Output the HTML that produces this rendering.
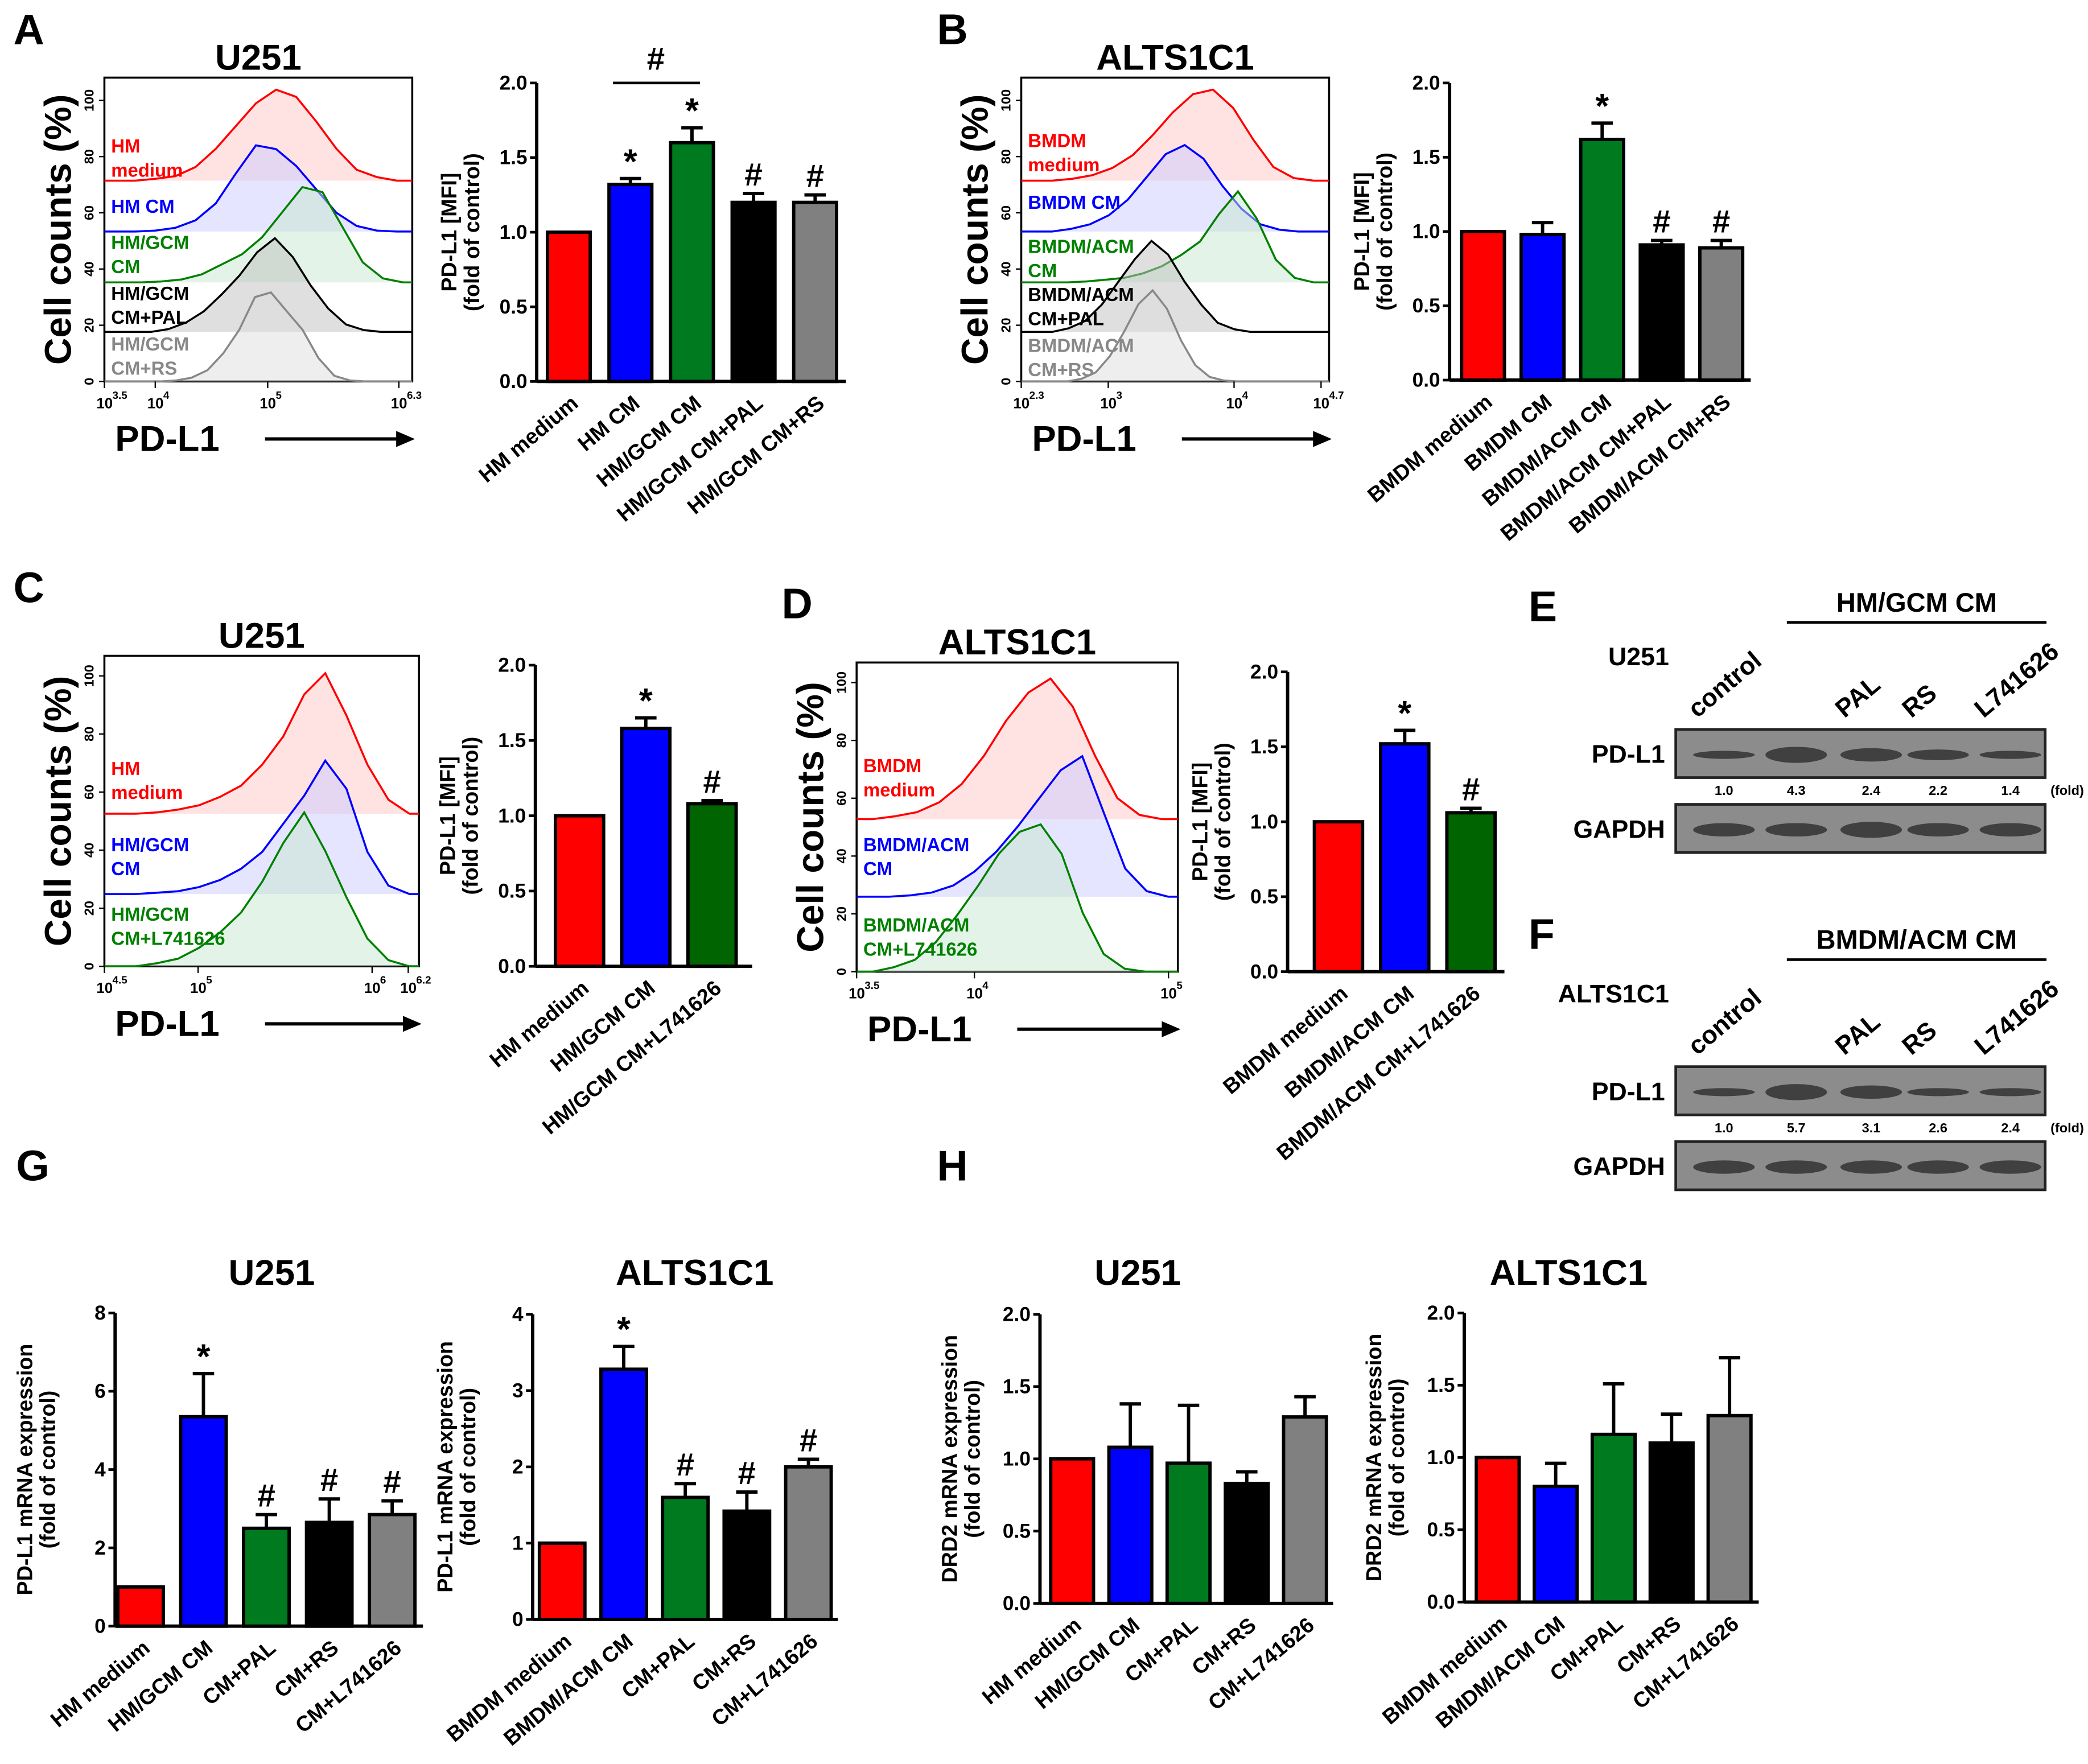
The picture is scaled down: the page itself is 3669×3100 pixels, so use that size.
<!DOCTYPE html>
<html><head><meta charset="utf-8"><style>
html,body{margin:0;padding:0;background:#fff}
svg{display:block}
text{font-family:"Liberation Sans",Arial,sans-serif;font-weight:bold}
</style></head><body>
<svg id="fig" width="3669" height="3100" viewBox="0 0 1560 1318" preserveAspectRatio="none" xmlns="http://www.w3.org/2000/svg">
</svg>
<script>
// ---- Data arrays ----
const catsA=["HM medium","HM CM","HM/GCM CM","HM/GCM CM+PAL","HM/GCM CM+RS"];
const valsA=[1.0,1.32,1.6,1.2,1.2];
const errsA=[0,0.04,0.1,0.06,0.05];
const marksA=["","*","*","#","#"];
const catsB=["BMDM medium","BMDM CM","BMDM/ACM CM","BMDM/ACM CM+PAL","BMDM/ACM CM+RS"];
const valsB=[1.0,0.98,1.62,0.91,0.89];
const errsB=[0,0.08,0.11,0.03,0.05];
const marksB=["","","*","#","#"];
const catsC=["HM medium","HM/GCM CM","HM/GCM CM+L741626"];
const valsC=[1.0,1.58,1.08];
const errsC=[0,0.07,0.02];
const marksC=["","*","#"];
const catsD=["BMDM medium","BMDM/ACM CM","BMDM/ACM CM+L741626"];
const valsD=[1.0,1.52,1.06];
const errsD=[0,0.09,0.03];
const marksD=["","*","#"];
const catsG1=["HM medium","HM/GCM CM","CM+PAL","CM+RS","CM+L741626"];
const valsG1=[1.0,5.35,2.5,2.65,2.85];
const errsG1=[0,1.1,0.35,0.6,0.35];
const marksG1=["","*","#","#","#"];
const catsG2=["BMDM medium","BMDM/ACM CM","CM+PAL","CM+RS","CM+L741626"];
const valsG2=[1.0,3.28,1.6,1.42,2.0];
const errsG2=[0,0.3,0.18,0.25,0.1];
const marksG2=["","*","#","#","#"];
const catsH1=["HM medium","HM/GCM CM","CM+PAL","CM+RS","CM+L741626"];
const valsH1=[1.0,1.08,0.97,0.83,1.29];
const errsH1=[0,0.3,0.4,0.08,0.14];
const catsH2=["BMDM medium","BMDM/ACM CM","CM+PAL","CM+RS","CM+L741626"];
const valsH2=[1.0,0.8,1.16,1.1,1.29];
const errsH2=[0,0.16,0.35,0.2,0.4];
const ticks2=["0.0","0.5","1.0","1.5","2.0"];
const ticksG1=["0","2","4","6","8"];
const ticksG2=["0","1","2","3","4"];
const foldE=["1.0","4.3","2.4","2.2","1.4"];
const foldF=["1.0","5.7","3.1","2.6","2.4"];
// histogram shapes (0-100 heights at evenly spaced points)
const hA_red=[0,2,5,15,35,60,85,100,92,65,35,12,4,0];
const hA_blue=[0,1,4,12,30,62,92,88,70,45,20,6,1,0];
const hA_green=[0,1,3,8,18,28,45,70,95,90,55,20,4,0];
const hA_black=[0,3,10,22,40,60,85,100,80,50,25,8,2,0];
const hA_gray=[0,1,4,12,30,55,90,95,75,55,25,6,1,0];
const hB_red=[0,2,6,14,28,50,75,95,100,80,45,15,3,0];
const hB_blue=[0,3,8,18,35,60,85,95,80,50,25,8,2,0];
const hB_green=[0,1,3,5,10,18,30,45,75,100,70,25,5,0];
const hB_black=[0,4,12,30,55,80,100,85,55,30,10,3,0,0];
const hB_gray=[0,3,10,28,55,85,100,80,45,18,5,1,0,0];
const hC_red=[0,1,3,6,12,20,35,55,85,100,70,35,10,0];
const hC_blue=[0,1,2,5,10,18,30,50,70,95,75,30,6,0];
const hC_green=[0,2,5,12,22,35,55,80,100,75,45,18,4,0];
const hD_red=[0,2,5,12,25,45,70,90,100,80,45,15,3,0];
const hD_blue=[0,1,3,8,18,32,50,70,90,100,60,20,4,0];
const hD_green=[0,3,8,20,38,58,80,95,100,80,40,12,2,0];

const NS="http://www.w3.org/2000/svg";
const svg=document.getElementById('fig');
function el(tag,attrs,parent){const e=document.createElementNS(NS,tag);for(const k in attrs)e.setAttribute(k,attrs[k]);(parent||svg).appendChild(e);return e;}
function txt(x,y,s,size,opts){opts=opts||{};const t=el('text',{x:x,y:y,'font-size':size,fill:opts.fill||'#000','text-anchor':opts.anchor||'start'},opts.parent);if(opts.rot!==undefined)t.setAttribute('transform','rotate('+opts.rot+' '+x+' '+y+')');if(opts.normal)t.setAttribute('font-weight','normal');t.textContent=s;return t;}

function letter(x,y,s){const t=txt(x,y,s,32);}

function barChart(o){
  const g=el('g',{});
  
  
  const ys=v=>o.y0-(v/o.ymax)*(o.y0-o.ytop);
  el('line',{x1:o.ax,y1:o.ytop,x2:o.ax,y2:o.y0,stroke:'#000','stroke-width':2.5},g);
  el('line',{x1:o.ax,y1:o.y0,x2:o.xend,y2:o.y0,stroke:'#000','stroke-width':2.5},g);
  o.ticks.forEach((t,i)=>{const v=o.ymax*i/(o.ticks.length-1);const y=ys(v);
    el('line',{x1:o.ax-5,y1:y,x2:o.ax,y2:y,stroke:'#000','stroke-width':2},g);
    const tl=txt(o.ax-7,y+5,t,15,{anchor:'end',parent:g});
    
    });
  const cols=o.colors;
  o.vals.forEach((v,i)=>{const cx=o.c0+i*o.step;const y=ys(v);
    if(o.errs[i]>0){const ye=ys(v+o.errs[i]);
      el('line',{x1:cx,y1:y,x2:cx,y2:ye,stroke:'#000','stroke-width':2.5},g);
      el('line',{x1:cx-8,y1:ye,x2:cx+8,y2:ye,stroke:'#000','stroke-width':2.5},g);}
    const r=el('rect',{x:cx-o.w/2,y:y,width:o.w,height:o.y0-y,fill:cols[i],stroke:'#000','stroke-width':2.5},g);
    
    
    if(o.marks&&o.marks[i]){const ye=ys(v+o.errs[i]);txt(cx,ye-(o.marks[i]=='*'?4:6),o.marks[i],o.marks[i]=='*'?26:24,{anchor:'middle',parent:g});}
    const lab=txt(cx+8,o.y0+18,o.cats[i],16,{anchor:'end',rot:-40,parent:g});
    
    
  });
  const midY=(o.ytop+o.y0)/2;
  txt(o.ax-o.tOff,midY,o.t1,16,{anchor:'middle',rot:-90,parent:g});
  txt(o.ax-o.tOff+17,midY,o.t2,16,{anchor:'middle',rot:-90,parent:g});
}
const C5=['#ff0000','#0000ff','#007a1f','#000000','#808080'];
const C3=['#ff0000','#0000ff','#006400'];

function hist(o){
  const g=el('g',{});
  
  
  el('rect',{x:o.x0,y:o.y0,width:o.x1-o.x0,height:o.y1-o.y0,fill:'#fff',stroke:'#000','stroke-width':1.5},g);
  o.curves.forEach((c,ci)=>{
    const n=c.h.length;const pts=[];
    const xa=o.x0+(o.x1-o.x0)*c.from, xb=o.x0+(o.x1-o.x0)*c.to;
    for(let i=0;i<n;i++){const x=xa+(xb-xa)*i/(n-1);pts.push([x,c.base-c.h[i]/100*c.amp]);}
    let d='M'+o.x0+','+c.base+' L'+pts.map(p=>p[0].toFixed(1)+','+p[1].toFixed(1)).join(' L')+' L'+o.x1+','+c.base;
    el('path',{d:d+' Z',fill:c.fill,opacity:0.5,stroke:'none'},g);
    const p=el('path',{d:d,fill:'none',stroke:c.col,'stroke-width':1.5},g);
    
    
    c.lab.forEach((l,li)=>{txt(o.x0+5,c.lab0+li*18,l,14,{fill:c.col,parent:g});});
  });
  for(let i=0;i<=5;i++){const y=o.y1-(o.y1-o.ytop100)*i/5;
    el('line',{x1:o.x0-4,y1:y,x2:o.x0,y2:y,stroke:'#000','stroke-width':1},g);
    txt(o.x0-8,y,String(i*20),10,{anchor:'middle',rot:-90,normal:true,parent:g});}
  txt(o.x0-25,(o.y0+o.y1)/2,'Cell counts (%)',28,{anchor:'middle',rot:-90,parent:g});
  o.xt.forEach(t=>{el('line',{x1:t[0],y1:o.y1,x2:t[0],y2:o.y1+5,stroke:'#000','stroke-width':1},g);
    txt(t[0]-6,o.y1+20,'10',11,{normal:true,parent:g});
    txt(t[0]+6,o.y1+13,t[1],8,{normal:true,parent:g});});
  txt((o.x0+o.x1)/2,o.y0-6,o.title,27,{anchor:'middle',parent:g});
  txt(o.x0+8,o.y1+52,'PD-L1',27,{parent:g});
  el('line',{x1:o.x0+120,y1:o.y1+43,x2:o.x1-10,y2:o.y1+43,stroke:'#000','stroke-width':2.5},g);
  el('path',{d:'M'+(o.x1-12)+','+(o.y1+37)+' L'+(o.x1+2)+','+(o.y1+43)+' L'+(o.x1-12)+','+(o.y1+49)+' Z',fill:'#000'},g);
}

function blot(o){
  const g=el('g',{});
  
  
  txt(o.x0-5,o.y0-48,o.cell,19,{anchor:'end',parent:g});
  txt(o.x0+180,o.y0-88,o.group,20,{anchor:'middle',parent:g});
  el('line',{x1:o.x0+83,y1:o.y0-80,x2:o.x0+277,y2:o.y0-80,stroke:'#000','stroke-width':2},g);
  const lanes=['control','','PAL','RS','L741626'];
  const lx=[o.x0+36,o.x0+90,o.x0+146,o.x0+196,o.x0+250];
  lanes.forEach((l,i)=>{if(l)txt(lx[i]-20,o.y0-8,l,19,{rot:-40,parent:g});});
  [[o.y0,'PD-L1',o.p],[o.y0+56,'GAPDH',o.gp]].forEach((r,ri)=>{
    const b=el('rect',{x:o.x0,y:r[0],width:276,height:36,fill:'#8c8c8c',stroke:'#222','stroke-width':2},g);
    
    
    txt(o.x0-8,r[0]+25,r[1],19,{anchor:'end',parent:g});
    lx.forEach((x,i)=>{el('ellipse',{cx:x,cy:r[0]+19,rx:23,ry:r[2][i],fill:'#333',opacity:0.85},g);});
  });
  o.fold.forEach((f,i)=>txt(lx[i],o.y0+49,f,10,{anchor:'middle',normal:true,parent:g}));
  txt(o.x0+280,o.y0+49,'(fold)',10,{normal:true,parent:g});
}

letter(10,33,'A');letter(700,33,'B');letter(10,450,'C');letter(584,462,'D');letter(1142,464,'E');letter(1142,709,'F');letter(12,882,'G');letter(700,882,'H');

// A
hist({name:'histogram-a-u251',x0:78,x1:308,y0:58,y1:285,ytop100:75,title:'U251',
 xt:[[78,'3.5'],[116,'4'],[200,'5'],[298,'6.3']],
 curves:[
  {h:hA_red,from:0.1,to:0.95,base:135,amp:68,col:'#ff0000',fill:'#ffc8c8',lab:['HM','medium'],lab0:114},
  {h:hA_blue,from:0.1,to:0.95,base:173,amp:70,col:'#0000ff',fill:'#ccccff',lab:['HM CM'],lab0:159},
  {h:hA_green,from:0.12,to:0.97,base:211,amp:75,col:'#008000',fill:'#c8e8d0',lab:['HM/GCM','CM'],lab0:186},
  {h:hA_black,from:0.15,to:0.9,base:248,amp:70,col:'#000',fill:'#c0c0c0',lab:['HM/GCM','CM+PAL'],lab0:224},
  {h:hA_gray,from:0.18,to:0.85,base:285,amp:70,col:'#888',fill:'#dedede',lab:['HM/GCM','CM+RS'],lab0:262}]});
barChart({name:'bar-chart-a',ax:401,ytop:62,y0:285,ymax:2,xend:632,c0:425,step:46,w:32,vals:valsA,errs:errsA,marks:marksA,cats:catsA,colors:C5,ticks:ticks2,t1:'PD-L1  [MFI]',t2:'(fold of control)',tOff:60});
el('line',{x1:458,y1:62,x2:523,y2:62,stroke:'#000','stroke-width':2});
txt(490,52,'#',24,{anchor:'middle'});

// B
hist({name:'histogram-b-alts1c1',x0:763,x1:993,y0:58,y1:285,ytop100:75,title:'ALTS1C1',
 xt:[[763,'2.3'],[828,'3'],[922,'4'],[987,'4.7']],
 curves:[
  {h:hB_red,from:0.1,to:0.95,base:135,amp:68,col:'#ff0000',fill:'#ffc8c8',lab:['BMDM','medium'],lab0:110},
  {h:hB_blue,from:0.1,to:0.9,base:173,amp:68,col:'#0000ff',fill:'#ccccff',lab:['BMDM CM'],lab0:156},
  {h:hB_green,from:0.15,to:0.95,base:211,amp:68,col:'#008000',fill:'#c8e8d0',lab:['BMDM/ACM','CM'],lab0:189},
  {h:hB_black,from:0.1,to:0.8,base:248,amp:68,col:'#000',fill:'#c0c0c0',lab:['BMDM/ACM','CM+PAL'],lab0:225},
  {h:hB_gray,from:0.15,to:0.75,base:285,amp:68,col:'#888',fill:'#dedede',lab:['BMDM/ACM','CM+RS'],lab0:263}]});
barChart({name:'bar-chart-b',ax:1083,ytop:62,y0:284,ymax:2,xend:1308,c0:1108,step:44.5,w:32,vals:valsB,errs:errsB,marks:marksB,cats:catsB,colors:C5,ticks:ticks2,t1:'PD-L1  [MFI]',t2:'(fold of control)',tOff:60});

// C
hist({name:'histogram-c-u251',x0:78,x1:313,y0:490,y1:722,ytop100:505,title:'U251',
 xt:[[78,'4.5'],[148,'5'],[278,'6'],[305,'6.2']],
 curves:[
  {h:hC_red,from:0.1,to:0.97,base:608,amp:105,col:'#ff0000',fill:'#ffc8c8',lab:['HM','medium'],lab0:579},
  {h:hC_blue,from:0.1,to:0.97,base:668,amp:105,col:'#0000ff',fill:'#ccccff',lab:['HM/GCM','CM'],lab0:636},
  {h:hC_green,from:0.1,to:0.97,base:722,amp:115,col:'#008000',fill:'#c8e8d0',lab:['HM/GCM','CM+L741626'],lab0:688}]});
barChart({name:'bar-chart-c',ax:400,ytop:497,y0:722,ymax:2,xend:562,c0:433,step:49.5,w:36,vals:valsC,errs:errsC,marks:marksC,cats:catsC,colors:C3,ticks:ticks2,t1:'PD-L1  [MFI]',t2:'(fold of control)',tOff:60});

// D
hist({name:'histogram-d-alts1c1',x0:640,x1:880,y0:495,y1:726,ytop100:510,title:'ALTS1C1',
 xt:[[640,'3.5'],[728,'4'],[873,'5']],
 curves:[
  {h:hD_red,from:0.05,to:0.95,base:612,amp:105,col:'#ff0000',fill:'#ffc8c8',lab:['BMDM','medium'],lab0:577},
  {h:hD_blue,from:0.1,to:0.97,base:670,amp:105,col:'#0000ff',fill:'#ccccff',lab:['BMDM/ACM','CM'],lab0:636},
  {h:hD_green,from:0.05,to:0.9,base:726,amp:110,col:'#008000',fill:'#c8e8d0',lab:['BMDM/ACM','CM+L741626'],lab0:696}]});
barChart({name:'bar-chart-d',ax:962,ytop:502,y0:726,ymax:2,xend:1124,c0:1000,step:49.5,w:36,vals:valsD,errs:errsD,marks:marksD,cats:catsD,colors:C3,ticks:ticks2,t1:'PD-L1  [MFI]',t2:'(fold of control)',tOff:60});

// E / F blots
blot({name:'western-blot-e',x0:1252,y0:545,cell:'U251',group:'HM/GCM CM',fold:foldE,p:[3,6,5,4,3],gp:[5,5,6,5,5]});
blot({name:'western-blot-f',x0:1252,y0:797,cell:'ALTS1C1',group:'BMDM/ACM CM',fold:foldF,p:[3,6,5,3,3],gp:[5,5,5,5,5]});

// G
txt(203,960,'U251',27,{anchor:'middle'});
txt(519,960,'ALTS1C1',27,{anchor:'middle'});
barChart({name:'bar-chart-g-u251',ax:86,ytop:981,y0:1215,ymax:8,xend:316,c0:105,step:47,w:34,vals:valsG1,errs:errsG1,marks:marksG1,cats:catsG1,colors:C5,ticks:ticksG1,t1:'PD-L1 mRNA expression',t2:'(fold of control)',tOff:62});
barChart({name:'bar-chart-g-alts1c1',ax:398,ytop:982,y0:1210,ymax:4,xend:626,c0:420,step:46,w:34,vals:valsG2,errs:errsG2,marks:marksG2,cats:catsG2,colors:C5,ticks:ticksG2,t1:'PD-L1 mRNA expression',t2:'(fold of control)',tOff:60});

// H
txt(850,960,'U251',27,{anchor:'middle'});
txt(1172,960,'ALTS1C1',27,{anchor:'middle'});
barChart({name:'bar-chart-h-u251',ax:777,ytop:982,y0:1198,ymax:2,xend:996,c0:801,step:43.5,w:32,vals:valsH1,errs:errsH1,marks:null,cats:catsH1,colors:C5,ticks:ticks2,t1:'DRD2 mRNA expression',t2:'(fold of control)',tOff:62});
barChart({name:'bar-chart-h-alts1c1',ax:1094,ytop:981,y0:1197,ymax:2,xend:1314,c0:1119,step:43.3,w:32,vals:valsH2,errs:errsH2,marks:null,cats:catsH2,colors:C5,ticks:ticks2,t1:'DRD2 mRNA expression',t2:'(fold of control)',tOff:62});
</script>
</body></html>
